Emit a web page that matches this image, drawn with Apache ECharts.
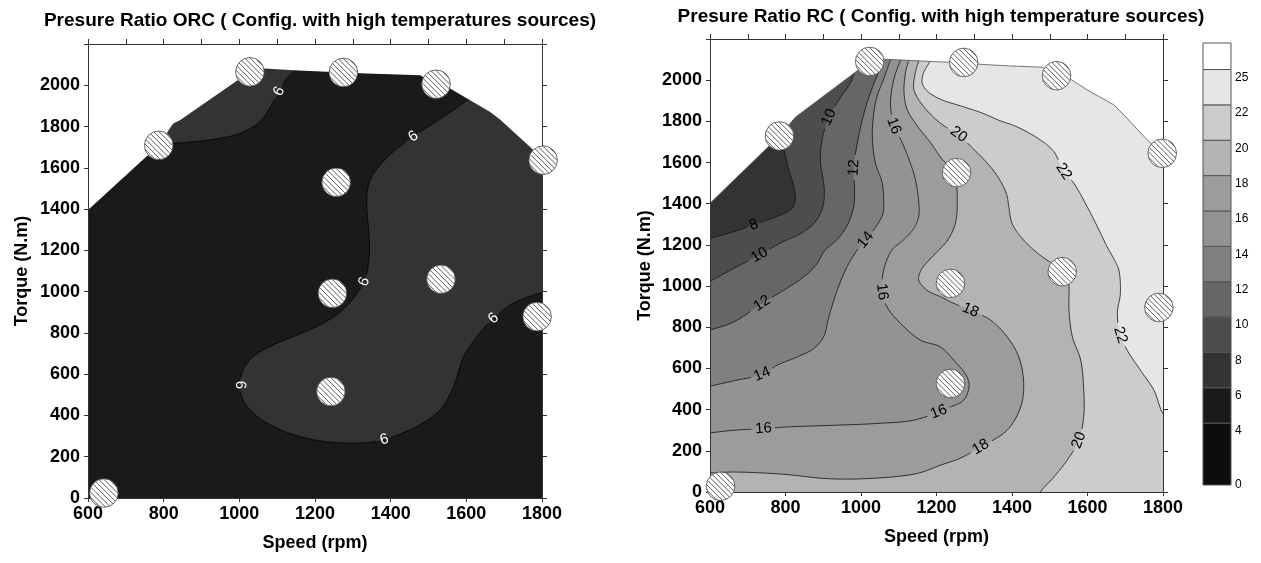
<!DOCTYPE html>
<html><head><meta charset="utf-8">
<script src="https://cdn.jsdelivr.net/npm/echarts@6/dist/echarts.min.js"></script>
<style>html,body{margin:0;padding:0;background:#fff}#c{width:1261px;height:563px}</style>
</head><body><div id="c"></div>
<script>
// ---------------- data ----------------
const speedTicks = [600, 800, 1000, 1200, 1400, 1600, 1800];
const torqueTicks = [0, 200, 400, 600, 800, 1000, 1200, 1400, 1600, 1800, 2000];
const torqueTop = 2200;
const levels = [0, 4, 6, 8, 10, 12, 14, 16, 18, 20, 22, 25];
const bandColors = ['#0d0d0d', '#1a1a1a', '#333333', '#4d4d4d', '#666666', '#808080', '#939393', '#9c9c9c', '#b3b3b3', '#cccccc', '#e6e6e6', '#ffffff'];

// measurement points [speed rpm, torque N.m]
const orcPoints = [[642,24],[787,1709],[1028,2065],[1275,2062],[1520,2005],[1803,1637],[1256,1530],[1246,992],[1533,1060],[1787,879],[1242,516]];
const rcPoints  = [[628,28],[784,1729],[1023,2091],[1272,2086],[1518,2022],[1798,1645],[1253,1551],[1237,1013],[1533,1070],[1789,896],[1237,527]];

// blanking boundary (upper edge of the gridded area)
const orcHull = [[600,1395],[787,1709],[825,1815],[843,1831],[1028,2065],[1068,2081],[1143,2073],[1275,2062],[1337,2057],[1478,2049],[1520,2005],[1557,1984],[1610,1928],[1663,1871],[1689,1834],[1768,1702],[1803,1637]];
const rcHull  = [[600,1402],[784,1729],[826,1820],[840,1839],[1023,2091],[1060,2102],[1140,2095],[1206,2089],[1272,2086],[1317,2077],[1396,2069],[1480,2063],[1518,2022],[1555,2005],[1599,1953],[1670,1880],[1705,1815],[1758,1710],[1798,1645]];

// ORC: contour 6 (two pieces)
const orc6a = [[787,1712],[825,1718],[931,1738],[1001,1767],[1054,1823],[1085,1904],[1107,1976],[1125,2033],[1147,2076],[1160,2115]];
const orc6aClose = [[1160,2230],[570,2230],[570,1700]];
const orc6aLabels = [[1105,1968]];
const orc6b = [[1625,1950],[1606,1931],[1540,1847],[1465,1758],[1407,1678],[1372,1613],[1350,1557],[1339,1492],[1337,1411],[1341,1315],[1344,1218],[1341,1130],[1332,1057],[1318,1010],[1298,960],[1266,900],[1220,845],[1160,795],[1090,742],[1037,685],[1010,621],[1002,548],[1010,476],[1037,411],[1090,347],[1160,298],[1249,269],[1346,270],[1383,283],[1469,347],[1531,427],[1566,540],[1593,685],[1628,782],[1672,871],[1725,944],[1778,984],[1800,995],[1830,1000]];
const orc6bClose = [[1830,2230],[1625,2230]];
const orc6bLabels = [[1460,1754],[1328,1050],[1004,548],[1383,283],[1674,870]];

// RC contours
const rc8 = [[770,1760],[784,1729],[796,1661],[809,1564],[822,1483],[826,1418],[818,1378],[787,1345],[747,1318],[716,1297],[663,1264],[600,1232]];
const rc8Close = [[570,1232],[570,-30],[1830,-30],[1830,2230],[740,2230]];
const rc8Labels = [[716,1297]];
const rc10 = [[600,1023],[672,1095],[731,1150],[787,1210],[840,1255],[878,1310],[898,1380],[903,1450],[900,1515],[893,1596],[894,1677],[903,1758],[915,1820],[940,1900],[972,1988],[990,2077],[1000,2115]];
const rc10Close = [[1000,2230],[1830,2230],[1830,-30],[570,-30],[570,1023]];
const rc10Labels = [[731,1150],[915,1820]];
const rc12 = [[600,786],[663,826],[738,916],[800,985],[845,1040],[880,1100],[905,1175],[935,1222],[962,1290],[980,1380],[983,1460],[981,1575],[994,1729],[1016,1891],[1040,2010],[1058,2090],[1065,2120]];
const rc12Close = [[1065,2230],[1830,2230],[1830,-30],[570,-30],[570,786]];
const rc12Labels = [[738,916],[979,1578]];
const rc14 = [[600,514],[663,540],[738,572],[778,616],[831,656],[875,697],[901,754],[915,851],[937,980],[963,1094],[990,1175],[1012,1224],[1040,1290],[1058,1350],[1060,1405],[1056,1502],[1038,1599],[1030,1729],[1034,1843],[1043,1924],[1060,2005],[1078,2099],[1082,2120]];
const rc14Close = [[1082,2230],[1830,2230],[1830,-30],[570,-30],[570,514]];
const rc14Labels = [[738,572],[1012,1224]];
const rc16 = [[600,287],[663,300],[742,308],[804,316],[928,324],[1034,332],[1140,349],[1206,389],[1237,413],[1272,446],[1286,510],[1281,559],[1246,640],[1210,705],[1158,737],[1105,818],[1069,899],[1056,972],[1060,1078],[1082,1175],[1110,1220],[1140,1280],[1153,1340],[1153,1405],[1144,1518],[1127,1616],[1105,1713],[1087,1778],[1083,1810],[1078,1891],[1087,2005],[1105,2099],[1110,2120]];
const rc16Close = [[1110,2230],[1830,2230],[1830,-30],[570,-30],[570,287]];
const rc16Labels = [[742,308],[1206,389],[1056,972],[1087,1778]];
const rc18 = [[600,92],[663,97],[795,86],[910,65],[1016,65],[1149,90],[1210,130],[1264,165],[1317,219],[1387,300],[1423,413],[1431,527],[1418,656],[1387,754],[1343,835],[1290,883],[1246,916],[1211,948],[1175,980],[1153,1029],[1160,1080],[1193,1150],[1230,1224],[1250,1305],[1255,1402],[1252,1500],[1240,1570],[1215,1616],[1184,1697],[1149,1778],[1122,1859],[1114,1940],[1118,2037],[1127,2099],[1130,2120]];
const rc18Close = [[1130,2230],[1830,2230],[1830,-30],[570,-30],[570,92]];
const rc18Labels = [[1317,219],[1290,883]];
const rc20 = [[1470,-20],[1475,0],[1511,73],[1546,154],[1577,251],[1590,365],[1590,494],[1582,640],[1560,754],[1551,883],[1551,997],[1548,1040],[1525,1090],[1493,1126],[1458,1175],[1423,1240],[1400,1305],[1392,1380],[1385,1450],[1361,1535],[1325,1616],[1290,1680],[1259,1737],[1220,1778],[1189,1826],[1158,1891],[1140,1956],[1144,2037],[1153,2094],[1156,2120]];
const rc20Close = [[1156,2230],[1830,2230],[1830,-30],[1470,-30]];
const rc20Labels = [[1577,251],[1259,1737]];
const rc22 = [[1820,350],[1800,381],[1776,494],[1740,592],[1705,689],[1687,762],[1679,867],[1687,964],[1683,1078],[1672,1125],[1652,1191],[1626,1289],[1599,1386],[1564,1499],[1537,1556],[1511,1653],[1475,1710],[1410,1776],[1370,1802],[1317,1843],[1264,1875],[1211,1907],[1175,1948],[1162,1988],[1166,2037],[1184,2094],[1190,2120]];
const rc22Close = [[1190,2230],[1830,2230],[1830,350]];
const rc22Labels = [[1687,762],[1537,1556]];

// ---------------- build ----------------
const FONT = "'Liberation Sans', Arial, Helvetica, sans-serif";
const XMIN = speedTicks[0], XMAX = speedTicks[speedTicks.length - 1];

const orcContours = [
  {level: 6, line: orc6a, close: orc6aClose, labels: orc6aLabels},
  {level: 6, line: orc6b, close: orc6bClose, labels: orc6bLabels}
];
const rcContours = [
  {level: 8, line: rc8, close: rc8Close, labels: rc8Labels},
  {level: 10, line: rc10, close: rc10Close, labels: rc10Labels},
  {level: 12, line: rc12, close: rc12Close, labels: rc12Labels},
  {level: 14, line: rc14, close: rc14Close, labels: rc14Labels},
  {level: 16, line: rc16, close: rc16Close, labels: rc16Labels},
  {level: 18, line: rc18, close: rc18Close, labels: rc18Labels},
  {level: 20, line: rc20, close: rc20Close, labels: rc20Labels},
  {level: 22, line: rc22, close: rc22Close, labels: rc22Labels}
];

// centripetal Catmull-Rom through pixel points (rendering only)
function smooth(pts, steps) {
  const n = pts.length;
  if (n < 3) return pts.slice();
  const P = [[2*pts[0][0]-pts[1][0], 2*pts[0][1]-pts[1][1]]].concat(pts, [[2*pts[n-1][0]-pts[n-2][0], 2*pts[n-1][1]-pts[n-2][1]]]);
  const knot = (a, b) => Math.sqrt(Math.max(Math.hypot(b[0]-a[0], b[1]-a[1]), 1e-4));
  const out = [];
  for (let i = 1; i < P.length - 2; i++) {
    const p0 = P[i-1], p1 = P[i], p2 = P[i+1], p3 = P[i+2];
    const t0 = 0, t1 = t0 + knot(p0, p1), t2 = t1 + knot(p1, p2), t3 = t2 + knot(p2, p3);
    for (let s = 0; s < steps; s++) {
      const t = t1 + (t2 - t1) * s / steps;
      const L = (a, b, ta, tb) => { const u = (t - ta) / (tb - ta); return [a[0] + (b[0]-a[0])*u, a[1] + (b[1]-a[1])*u]; };
      const A1 = L(p0, p1, t0, t1), A2 = L(p1, p2, t1, t2), A3 = L(p2, p3, t2, t3);
      const B1 = L(A1, A2, t0, t2), B2 = L(A2, A3, t1, t3);
      out.push(L(B1, B2, t1, t2));
    }
  }
  out.push(pts[n-1].slice());
  return out;
}
const colorOf = lv => bandColors[levels.indexOf(lv)];

function fillSeries(contours, baseLevel, xi, yi) {
  return {
    type: 'custom', xAxisIndex: xi, yAxisIndex: yi, clip: true, z: 1, silent: true,
    data: [[XMIN, 0]].concat(contours.map(c => c.line[0])),
    renderItem: (params, api) => {
      const i = params.dataIndex;
      if (i === 0) {
        const pts = [[XMIN, 0], [XMAX, 0], [XMAX, torqueTop], [XMIN, torqueTop]].map(p => api.coord(p));
        return {type: 'polygon', shape: {points: pts}, style: {fill: colorOf(baseLevel)}};
      }
      const c = contours[i - 1];
      const dense = smooth(c.line.map(p => api.coord(p)), 12);
      const pts = dense.concat(c.close.map(p => api.coord(p)));
      return {type: 'polygon', shape: {points: pts}, style: {fill: colorOf(c.level)}};
    }
  };
}

function lineSeries(contours, xi, yi, lineColor, labelColor, fontSize) {
  return {
    type: 'custom', xAxisIndex: xi, yAxisIndex: yi, clip: true, z: 2, silent: true,
    data: contours.map(c => c.line[0]),
    renderItem: (params, api) => {
      const c = contours[params.dataIndex];
      const dense = smooth(c.line.map(p => api.coord(p)), 12);
      const s = [0];
      for (let k = 1; k < dense.length; k++) s.push(s[k-1] + Math.hypot(dense[k][0]-dense[k-1][0], dense[k][1]-dense[k-1][1]));
      const gaps = [], texts = [];
      c.labels.forEach(lp => {
        const q = api.coord(lp);
        let best = 0, bd = Infinity;
        dense.forEach((p, k) => { const d = Math.hypot(p[0]-q[0], p[1]-q[1]); if (d < bd) { bd = d; best = k; } });
        const txt = String(c.level);
        const half = txt.length * 0.56 * fontSize / 2 + 3;
        gaps.push([s[best] - half, s[best] + half]);
        let k1 = best, k2 = best;
        while (k1 > 0 && s[best] - s[k1] < 6) k1--;
        while (k2 < dense.length - 1 && s[k2] - s[best] < 6) k2++;
        let ang = Math.atan2(dense[k2][1] - dense[k1][1], dense[k2][0] - dense[k1][0]);
        if (ang > Math.PI / 2) ang -= Math.PI;
        if (ang <= -Math.PI / 2) ang += Math.PI;
        texts.push({type: 'text', x: dense[best][0], y: dense[best][1], rotation: -ang,
          style: {text: txt, x: 0, y: 0, fill: labelColor, font: fontSize + 'px ' + FONT, align: 'center', verticalAlign: 'middle'}});
      });
      const pieces = []; let cur = [];
      dense.forEach((p, k) => {
        const inGap = gaps.some(g => s[k] > g[0] && s[k] < g[1]);
        if (inGap) { if (cur.length > 1) pieces.push(cur); cur = []; } else cur.push(p);
      });
      if (cur.length > 1) pieces.push(cur);
      const children = pieces.map(pc => ({type: 'polyline', shape: {points: pc}, style: {stroke: lineColor, lineWidth: 0.8, fill: null}}));
      return {type: 'group', children: children.concat(texts)};
    }
  };
}

function blankSeries(hull, xi, yi, edgeColor) {
  return {
    type: 'custom', xAxisIndex: xi, yAxisIndex: yi, clip: true, z: 3, silent: true,
    data: [hull[0]],
    renderItem: (params, api) => {
      const last = hull[hull.length - 1];
      const poly = hull.concat([[XMAX + 30, last[1] - 40], [XMAX + 30, torqueTop + 30], [XMIN - 30, torqueTop + 30], [XMIN - 30, hull[0][1]]]).map(p => api.coord(p));
      const edge = hull.map(p => api.coord(p));
      const ch = [{type: 'polygon', shape: {points: poly}, style: {fill: '#ffffff'}}];
      if (edgeColor) ch.push({type: 'polyline', shape: {points: edge}, style: {stroke: edgeColor, lineWidth: 0.8, fill: null}});
      return {type: 'group', children: ch};
    }
  };
}

function pointSeries(points, xi, yi) {
  return {
    type: 'custom', xAxisIndex: xi, yAxisIndex: yi, clip: false, z: 6, silent: true,
    data: points,
    renderItem: (params, api) => {
      const c = api.coord([api.value(0), api.value(1)]);
      const r = 14.3, sp = 3.7, R2 = Math.SQRT2;
      const ch = [{type: 'circle', shape: {cx: c[0], cy: c[1], r: r}, style: {fill: '#ffffff'}}];
      for (let d = -r + sp / 2; d < r; d += sp) {
        const h = Math.sqrt(Math.max(r * r - d * d, 0)) - 0.3;
        const nx = d / R2, ny = -d / R2, tx = h / R2, ty = h / R2;
        ch.push({type: 'line', shape: {x1: c[0] + nx - tx, y1: c[1] + ny - ty, x2: c[0] + nx + tx, y2: c[1] + ny + ty}, style: {stroke: '#4a4a4a', lineWidth: 0.9}});
      }
      ch.push({type: 'circle', shape: {cx: c[0], cy: c[1], r: r}, style: {fill: null, stroke: '#444', lineWidth: 0.8}});
      return {type: 'group', children: ch};
    }
  };
}

// colour bar positions (band index space)
const cbPos = i => i === 0 ? 0 : (i >= levels.length ? levels.length + 0.5 : i + 0.75);
const colorBarSeries = {
  type: 'custom', xAxisIndex: 4, yAxisIndex: 4, clip: false, z: 2, silent: true,
  data: levels.map((v, i) => [0, i]),
  renderItem: (params, api) => {
    const i = params.dataIndex;
    const a = api.coord([0, cbPos(i)]), b = api.coord([1, cbPos(i + 1)]);
    const ch = [{type: 'rect', shape: {x: a[0], y: b[1], width: b[0] - a[0], height: a[1] - b[1]}, style: {fill: bandColors[i], stroke: '#555', lineWidth: 1}}];
    ch.push({type: 'text', x: b[0] + 4, y: a[1] + (i === 0 ? 0 : 8), style: {text: String(levels[i]), x: 0, y: 0, fill: '#000', font: '12px ' + FONT, align: 'left', verticalAlign: 'middle'}});
    return {type: 'group', children: ch};
  }
};

// ---------------- axes ----------------
const tickLabel = {color: '#000', fontFamily: FONT, fontWeight: 'bold', fontSize: 18};
const nameStyle = {color: '#000', fontFamily: FONT, fontWeight: 'bold', fontSize: 18};
function xBottom(g) {
  return {gridIndex: g, type: 'value', position: 'bottom', min: XMIN, max: XMAX, interval: speedTicks[1] - speedTicks[0], z: 4,
    axisLine: {show: true, onZero: false, lineStyle: {color: '#333', width: 1}},
    axisTick: {show: true, inside: false, length: 4, lineStyle: {color: '#333'}},
    axisLabel: Object.assign({show: true, margin: 7, showMinLabel: true, showMaxLabel: true,
      formatter: v => speedTicks.indexOf(v) >= 0 ? String(v) : ''}, tickLabel),
    splitLine: {show: false},
    name: 'Speed (rpm)', nameLocation: 'middle', nameGap: 36, nameTextStyle: nameStyle};
}
function xTop(g) {
  return {gridIndex: g, type: 'value', position: 'top', min: XMIN, max: XMAX, interval: (speedTicks[1] - speedTicks[0]) / 2, z: 4,
    axisLine: {show: true, onZero: false, lineStyle: {color: '#333', width: 1}},
    axisTick: {show: true, inside: false, length: 5, lineStyle: {color: '#333'}},
    axisLabel: {show: false}, splitLine: {show: false}};
}
function yLeft(g, gap) {
  return {gridIndex: g, type: 'value', position: 'left', min: 0, max: torqueTop, interval: torqueTicks[1] - torqueTicks[0], z: 4,
    axisLine: {show: true, onZero: false, lineStyle: {color: '#333', width: 1}},
    axisTick: {show: true, inside: false, length: 4, lineStyle: {color: '#333'}},
    axisLabel: Object.assign({show: true, margin: 8, showMinLabel: true, showMaxLabel: true,
      formatter: v => torqueTicks.indexOf(v) >= 0 ? String(v) : ''}, tickLabel),
    splitLine: {show: false},
    name: 'Torque (N.m)', nameLocation: 'middle', nameRotate: 90, nameGap: gap, nameTextStyle: nameStyle};
}
function yRight(g) {
  return {gridIndex: g, type: 'value', position: 'right', min: 0, max: torqueTop, interval: torqueTicks[1] - torqueTicks[0], z: 4,
    axisLine: {show: true, onZero: false, lineStyle: {color: '#333', width: 1}},
    axisTick: {show: true, inside: false, length: 5, lineStyle: {color: '#333'}},
    axisLabel: {show: false}, splitLine: {show: false}};
}

const option = {
  animation: false,
  backgroundColor: '#ffffff',
  title: [
    {text: 'Presure Ratio ORC ( Config. with high temperatures sources)', left: 315, top: 6, textAlign: 'center',
      textStyle: {color: '#000', fontFamily: FONT, fontWeight: 'bold', fontSize: 19}},
    {text: 'Presure Ratio RC ( Config. with high temperature sources)', left: 936, top: 2, textAlign: 'center',
      textStyle: {color: '#000', fontFamily: FONT, fontWeight: 'bold', fontSize: 19}}
  ],
  grid: [
    {left: 88, top: 44, width: 454, height: 454},
    {left: 710, top: 39, width: 453, height: 453},
    {left: 1203, top: 43, width: 28, height: 442}
  ],
  xAxis: [xBottom(0), xTop(0), xBottom(1), xTop(1), {gridIndex: 2, type: 'value', min: 0, max: 1, show: false}],
  yAxis: [yLeft(0, 57), yRight(0), yLeft(1, 56), yRight(1), {gridIndex: 2, type: 'value', min: 0, max: levels.length + 0.5, show: false}],
  series: [
    fillSeries(orcContours, 4, 0, 0),
    lineSeries(orcContours, 0, 0, '#000', '#ffffff', 15),
    blankSeries(orcHull, 0, 0, null),
    pointSeries(orcPoints, 0, 0),
    fillSeries(rcContours, 6, 2, 2),
    lineSeries(rcContours, 2, 2, '#111', '#000', 15),
    blankSeries(rcHull, 2, 2, '#555'),
    pointSeries(rcPoints, 2, 2),
    colorBarSeries
  ]
};
const chart = echarts.init(document.getElementById('c'), null, {renderer: 'canvas'});
chart.setOption(option);
</script></body></html>
